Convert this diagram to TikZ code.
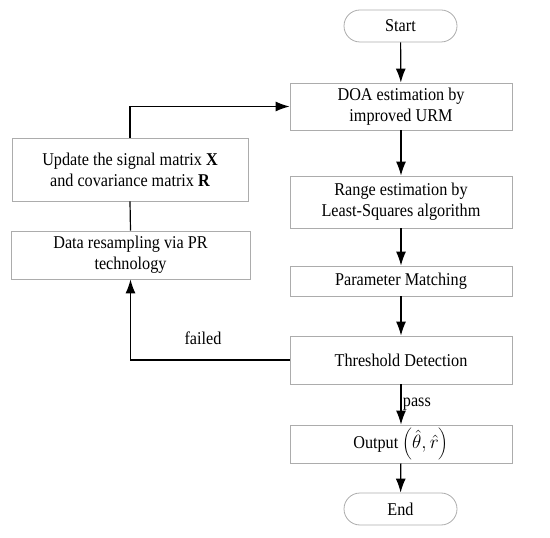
\documentclass[tikz,border=0pt]{standalone}
\usepackage{fontspec}
\setmainfont[FakeStretch=0.9]{Liberation Serif}
\usetikzlibrary{arrows.meta}
\begin{document}
\begin{tikzpicture}[x=0.75pt,y=-0.75pt,
  box/.style={draw=gray!65, line width=0.6pt, inner sep=0pt, align=center, font=\fontsize{13.5}{15.8}\selectfont},
  term/.style={box, rounded corners=12pt, minimum width=84.75pt, minimum height=24pt},
  conn/.style={line width=0.9pt, draw=black},
  arr/.style={conn, -{Latex[length=10.5pt,width=7.5pt]}},
  lbl/.style={font=\fontsize{13.5}{15}\selectfont, inner sep=1pt}]
\useasboundingbox (0,0) rectangle (550,538);
\node[term] (start) at (400.5,26) {Start};
\node[box, minimum width=166.5pt, minimum height=35.25pt] (doa) at (401,106.5) {DOA estimation by\\improved URM};
\node[box, minimum width=166.5pt, minimum height=39pt] (range) at (401,202) {Range estimation by\\Least-Squares algorithm};
\node[box, minimum width=166.5pt, minimum height=22.5pt] (param) at (401,281) {Parameter Matching};
\node[box, minimum width=166.5pt, minimum height=36pt] (thr) at (401,360) {Threshold Detection};
\node[box, minimum width=166.5pt, minimum height=28.5pt] (out) at (401,444) {Output $\left(\hat{\theta},\hat{r}\right)$};
\node[term] (end) at (400.5,509) {End};
\node[box, minimum width=177pt, minimum height=47.25pt] (upd) at (130,169.5) {Update the signal matrix \textbf{X}\\and covariance matrix \textbf{R}};
\node[box, minimum width=179.25pt, minimum height=36pt] (data) at (130.5,255) {Data resampling via PR\\technology};
\draw[arr] (start) -- (doa);
\draw[arr] (doa) -- (range);
\draw[arr] (range) -- (param);
\draw[arr] (param) -- (thr);
\draw[arr] (thr) -- node[lbl, right, pos=0.5] {pass} (out);
\draw[arr] (out) -- (end);
\draw[arr] (upd.north) |- (doa.west);
\draw[conn] (data.north) -- (upd.south);
\coordinate (fl) at (data.south |- thr.west);
\draw[arr] (thr.west) -- (fl) -- (data.south);
\node[lbl] (failed) at (203,338) {failed};
\end{tikzpicture}
\end{document}
